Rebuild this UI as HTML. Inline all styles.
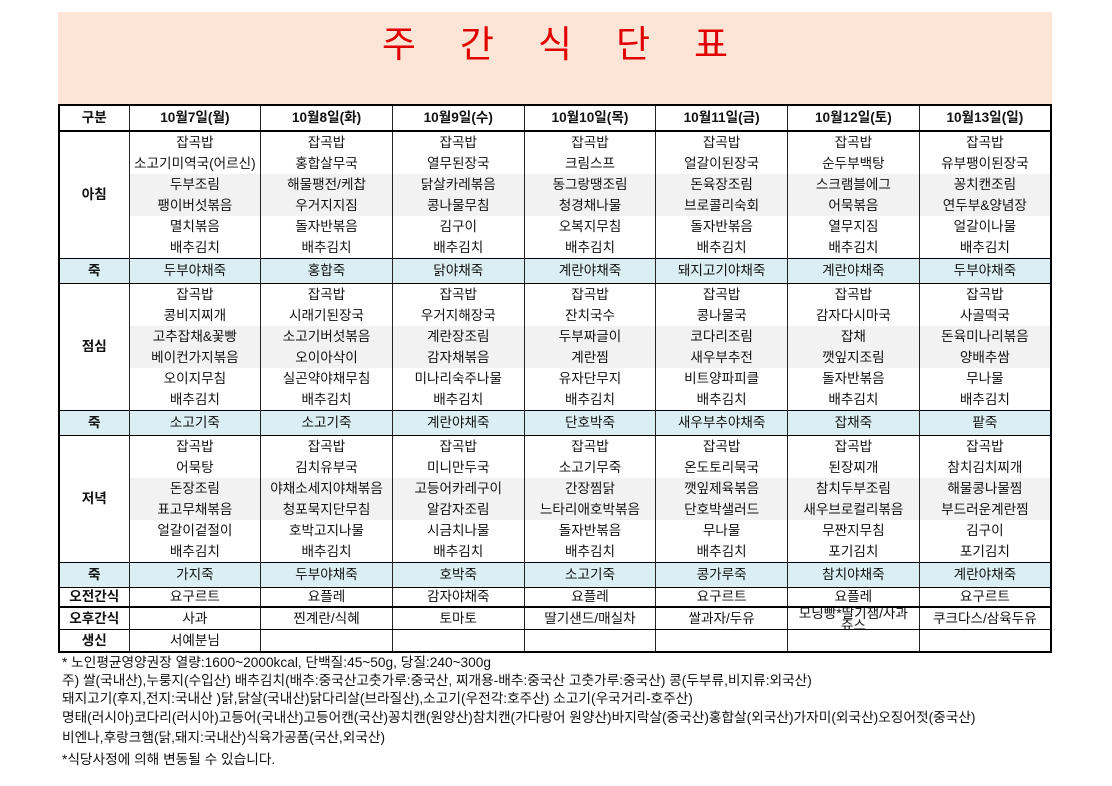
<!DOCTYPE html>
<html><head><meta charset="utf-8"><style>
body{margin:0;width:1112px;height:786px;background:#fff;position:relative;overflow:hidden;font-family:"Liberation Sans","Noto Sans CJK KR","NanumGothic",sans-serif;}
.title{position:absolute;left:58px;top:12px;width:994px;height:92px;background:#fce4d6;}
.title div{position:absolute;left:44px;right:0;top:4px;text-align:center;color:#e00000;font-size:37px;letter-spacing:44px;font-family:"Noto Sans CJK KR",sans-serif;line-height:50px;}
table{position:absolute;left:58px;top:104px;width:994px;border-collapse:collapse;table-layout:fixed;border:2px solid #000;}
td{padding:0;text-align:center;font-size:13.6px;color:#111;white-space:nowrap;overflow:hidden;border-left:1px solid #222;border-right:1px solid #222;line-height:1;}
tr.m td{height:21px;}
tr.g td.c{background:#f2f2f2;}
td.l{font-weight:bold;}
tr.h td{height:24px;font-weight:bold;border-bottom:2px solid #000;}
tr.j td{height:24px;background:#daeef3;border-top:1px solid #000;border-bottom:1px solid #000;}
tr.s td{height:21px;border-top:1px solid #000;border-bottom:1px solid #000;}
tr.s2 td{border-bottom:2px solid #000;}
.wrap{height:21px;overflow:hidden;white-space:normal;line-height:12px;font-size:13.6px;}
.foot{position:absolute;left:62px;top:654px;font-size:13.7px;color:#111;line-height:18px;white-space:nowrap;}
</style></head><body>
<div class="title"><div>주간식단표</div></div>
<table>
<colgroup><col style="width:70px"><col><col><col><col><col><col><col></colgroup>
<tr class="h"><td>구분</td><td>10월7일(월)</td><td>10월8일(화)</td><td>10월9일(수)</td><td>10월10일(목)</td><td>10월11일(금)</td><td>10월12일(토)</td><td>10월13일(일)</td></tr>
<tr class="m"><td class="l" rowspan="6">아침</td><td>잡곡밥</td><td>잡곡밥</td><td>잡곡밥</td><td>잡곡밥</td><td>잡곡밥</td><td>잡곡밥</td><td>잡곡밥</td></tr>
<tr class="m"><td>소고기미역국(어르신)</td><td>홍합살무국</td><td>열무된장국</td><td>크림스프</td><td>얼갈이된장국</td><td>순두부백탕</td><td>유부팽이된장국</td></tr>
<tr class="m g"><td class="c">두부조림</td><td class="c">해물팽전/케찹</td><td class="c">닭살카레볶음</td><td class="c">동그랑땡조림</td><td class="c">돈육장조림</td><td class="c">스크램블에그</td><td class="c">꽁치캔조림</td></tr>
<tr class="m g"><td class="c">팽이버섯볶음</td><td class="c">우거지지짐</td><td class="c">콩나물무침</td><td class="c">청경채나물</td><td class="c">브로콜리숙회</td><td class="c">어묵볶음</td><td class="c">연두부&amp;양념장</td></tr>
<tr class="m"><td>멸치볶음</td><td>돌자반볶음</td><td>김구이</td><td>오복지무침</td><td>돌자반볶음</td><td>열무지짐</td><td>얼갈이나물</td></tr>
<tr class="m"><td>배추김치</td><td>배추김치</td><td>배추김치</td><td>배추김치</td><td>배추김치</td><td>배추김치</td><td>배추김치</td></tr>
<tr class="j"><td class="l">죽</td><td>두부야채죽</td><td>홍합죽</td><td>닭야채죽</td><td>계란야채죽</td><td>돼지고기야채죽</td><td>계란야채죽</td><td>두부야채죽</td></tr>
<tr class="m"><td class="l" rowspan="6">점심</td><td>잡곡밥</td><td>잡곡밥</td><td>잡곡밥</td><td>잡곡밥</td><td>잡곡밥</td><td>잡곡밥</td><td>잡곡밥</td></tr>
<tr class="m"><td>콩비지찌개</td><td>시래기된장국</td><td>우거지해장국</td><td>잔치국수</td><td>콩나물국</td><td>감자다시마국</td><td>사골떡국</td></tr>
<tr class="m g"><td class="c">고추잡채&amp;꽃빵</td><td class="c">소고기버섯볶음</td><td class="c">계란장조림</td><td class="c">두부짜글이</td><td class="c">코다리조림</td><td class="c">잡채</td><td class="c">돈육미나리볶음</td></tr>
<tr class="m g"><td class="c">베이컨가지볶음</td><td class="c">오이아삭이</td><td class="c">감자채볶음</td><td class="c">계란찜</td><td class="c">새우부추전</td><td class="c">깻잎지조림</td><td class="c">양배추쌈</td></tr>
<tr class="m"><td>오이지무침</td><td>실곤약야채무침</td><td>미나리숙주나물</td><td>유자단무지</td><td>비트양파피클</td><td>돌자반볶음</td><td>무나물</td></tr>
<tr class="m"><td>배추김치</td><td>배추김치</td><td>배추김치</td><td>배추김치</td><td>배추김치</td><td>배추김치</td><td>배추김치</td></tr>
<tr class="j"><td class="l">죽</td><td>소고기죽</td><td>소고기죽</td><td>계란야채죽</td><td>단호박죽</td><td>새우부추야채죽</td><td>잡채죽</td><td>팥죽</td></tr>
<tr class="m"><td class="l" rowspan="6">저녁</td><td>잡곡밥</td><td>잡곡밥</td><td>잡곡밥</td><td>잡곡밥</td><td>잡곡밥</td><td>잡곡밥</td><td>잡곡밥</td></tr>
<tr class="m"><td>어묵탕</td><td>김치유부국</td><td>미니만두국</td><td>소고기무죽</td><td>온도토리묵국</td><td>된장찌개</td><td>참치김치찌개</td></tr>
<tr class="m g"><td class="c">돈장조림</td><td class="c">야채소세지야채볶음</td><td class="c">고등어카레구이</td><td class="c">간장찜닭</td><td class="c">깻잎제육볶음</td><td class="c">참치두부조림</td><td class="c">해물콩나물찜</td></tr>
<tr class="m g"><td class="c">표고무채볶음</td><td class="c">청포묵지단무침</td><td class="c">알감자조림</td><td class="c">느타리애호박볶음</td><td class="c">단호박샐러드</td><td class="c">새우브로컬리볶음</td><td class="c">부드러운계란찜</td></tr>
<tr class="m"><td>얼갈이겉절이</td><td>호박고지나물</td><td>시금치나물</td><td>돌자반볶음</td><td>무나물</td><td>무짠지무침</td><td>김구이</td></tr>
<tr class="m"><td>배추김치</td><td>배추김치</td><td>배추김치</td><td>배추김치</td><td>배추김치</td><td>포기김치</td><td>포기김치</td></tr>
<tr class="j"><td class="l">죽</td><td>가지죽</td><td>두부야채죽</td><td>호박죽</td><td>소고기죽</td><td>콩가루죽</td><td>참치야채죽</td><td>계란야채죽</td></tr>
<tr class="s s2"><td class="l" style="height:18px">오전간식</td><td style="height:18px">요구르트</td><td style="height:18px">요플레</td><td style="height:18px">감자야채죽</td><td style="height:18px">요플레</td><td style="height:18px">요구르트</td><td style="height:18px">요플레</td><td style="height:18px">요구르트</td></tr>
<tr class="s"><td class="l">오후간식</td><td>사과</td><td>찐계란/식혜</td><td>토마토</td><td>딸기샌드/매실차</td><td>쌀과자/두유</td><td><div class="wrap">모닝빵*딸기잼/사과<br>쥬스</div></td><td>쿠크다스/삼육두유</td></tr>
<tr class="s"><td class="l">생신</td><td>서예분님</td><td></td><td></td><td></td><td></td><td></td><td></td></tr>
</table>
<div class="foot">
<div>* 노인평균영양권장 열량:1600~2000kcal, 단백질:45~50g, 당질:240~300g</div>
<div>주) 쌀(국내산),누룽지(수입산) 배추김치(배추:중국산고춧가루:중국산, 찌개용-배추:중국산 고춧가루:중국산) 콩(두부류,비지류:외국산)</div>
<div>돼지고기(후지,전지:국내산 )닭,닭살(국내산)닭다리살(브라질산),소고기(우전각:호주산) 소고기(우국거리-호주산)</div>
<div style="margin-top:1px">명태(러시아)코다리(러시아)고등어(국내산)고등어캔(국산)꽁치캔(원양산)참치캔(가다랑어 원양산)바지락살(중국산)홍합살(외국산)가자미(외국산)오징어젓(중국산)</div>
<div style="margin-top:2px">비엔나,후랑크햄(닭,돼지:국내산)식육가공품(국산,외국산)</div>
<div style="margin-top:4px">*식당사정에 의해 변동될 수 있습니다.</div>
</div>
</body></html>
